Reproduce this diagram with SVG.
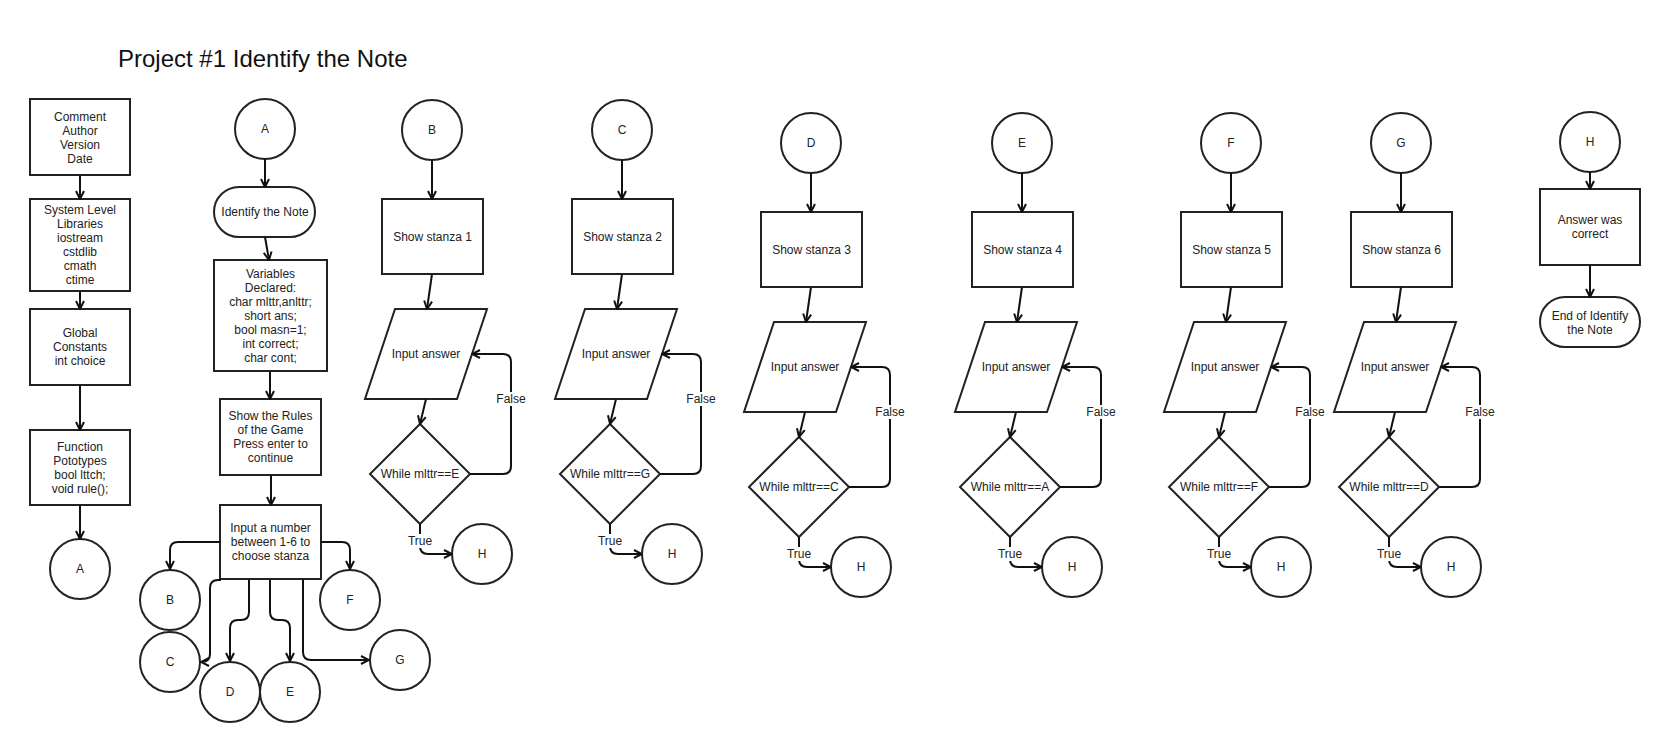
<svg xmlns="http://www.w3.org/2000/svg" width="1660" height="742" viewBox="0 0 1660 742">
  <style>
    .box { fill: #fff; stroke: #222; stroke-width: 2; }
    .t { font-family: "Liberation Sans", Arial, sans-serif; font-size: 12px; fill: #222; text-anchor: middle; }
    .title { font-family: "Liberation Sans", Arial, sans-serif; font-size: 24px; fill: #111; }
    .conn { fill: none; stroke: #111; stroke-width: 2; marker-end: url(#arrow); }
    .line { fill: none; stroke: #111; stroke-width: 2; }
    .bg { fill: #fff; }
  </style>
  <defs>
    <marker id="arrow" viewBox="0 0 10 10" refX="9" refY="5" markerWidth="10" markerHeight="10" markerUnits="userSpaceOnUse" orient="auto">
      <path d="M1,1 L9,5 L1,9" fill="none" stroke="#111" stroke-width="2"/>
    </marker>
  </defs>

  <rect width="1660" height="742" fill="#fff"/>

  <text class="title" x="118" y="67">Project #1 Identify the Note</text>

  <!-- Column 1: program header -->
  <g id="node-comment">
    <rect class="box" x="30" y="99" width="100" height="76"/>
    <text class="t" x="80" y="121">Comment</text>
    <text class="t" x="80" y="135">Author</text>
    <text class="t" x="80" y="149">Version</text>
    <text class="t" x="80" y="163">Date</text>
  </g>
  <g id="node-libraries">
    <rect class="box" x="30" y="199" width="100" height="92"/>
    <text class="t" x="80" y="214">System Level</text>
    <text class="t" x="80" y="228">Libraries</text>
    <text class="t" x="80" y="242">iostream</text>
    <text class="t" x="80" y="256">cstdlib</text>
    <text class="t" x="80" y="270">cmath</text>
    <text class="t" x="80" y="284">ctime</text>
  </g>
  <g id="node-globals">
    <rect class="box" x="30" y="309" width="100" height="76"/>
    <text class="t" x="80" y="337">Global</text>
    <text class="t" x="80" y="351">Constants</text>
    <text class="t" x="80" y="365">int choice</text>
  </g>
  <g id="node-prototypes">
    <rect class="box" x="30" y="430" width="100" height="75"/>
    <text class="t" x="80" y="451">Function</text>
    <text class="t" x="80" y="465">Pototypes</text>
    <text class="t" x="80" y="479">bool lttch;</text>
    <text class="t" x="80" y="493">void rule();</text>
  </g>
  <g id="node-a-out">
    <circle class="box" cx="80" cy="569" r="30"/>
    <text class="t" x="80" y="573">A</text>
  </g>

  <!-- Column 2: main flow -->
  <g id="node-a-in">
    <circle class="box" cx="265" cy="129" r="30"/>
    <text class="t" x="265" y="133">A</text>
  </g>
  <g id="node-start">
    <rect class="box" x="214" y="187" width="101" height="50" rx="25" ry="25"/>
    <text class="t" x="265" y="216">Identify the Note</text>
  </g>
  <g id="node-variables">
    <rect class="box" x="214" y="260" width="113" height="111"/>
    <text class="t" x="270.5" y="278">Variables</text>
    <text class="t" x="270.5" y="292">Declared:</text>
    <text class="t" x="270.5" y="306">char mlttr,anlttr;</text>
    <text class="t" x="270.5" y="320">short ans;</text>
    <text class="t" x="270.5" y="334">bool masn=1;</text>
    <text class="t" x="270.5" y="348">int correct;</text>
    <text class="t" x="270.5" y="362">char cont;</text>
  </g>
  <g id="node-rules">
    <rect class="box" x="220" y="399" width="101" height="76"/>
    <text class="t" x="270.5" y="420">Show the Rules</text>
    <text class="t" x="270.5" y="434">of the Game</text>
    <text class="t" x="270.5" y="448">Press enter to</text>
    <text class="t" x="270.5" y="462">continue</text>
  </g>
  <g id="node-choose">
    <rect class="box" x="220" y="505" width="101" height="74"/>
    <text class="t" x="270.5" y="532">Input a number</text>
    <text class="t" x="270.5" y="546">between 1-6 to</text>
    <text class="t" x="270.5" y="560">choose stanza</text>
  </g>
  <g id="node-b-out"><circle class="box" cx="170" cy="600" r="30"/><text class="t" x="170" y="604">B</text></g>
  <g id="node-c-out"><circle class="box" cx="170" cy="662" r="30"/><text class="t" x="170" y="666">C</text></g>
  <g id="node-d-out"><circle class="box" cx="230" cy="692" r="30"/><text class="t" x="230" y="696">D</text></g>
  <g id="node-e-out"><circle class="box" cx="290" cy="692" r="30"/><text class="t" x="290" y="696">E</text></g>
  <g id="node-f-out"><circle class="box" cx="350" cy="600" r="30"/><text class="t" x="350" y="604">F</text></g>
  <g id="node-g-out"><circle class="box" cx="400" cy="660" r="30"/><text class="t" x="400" y="664">G</text></g>

  <!-- Stanza 1 (B) -->
  <g id="node-b-in"><circle class="box" cx="432" cy="130" r="30"/><text class="t" x="432" y="134">B</text></g>
  <g id="node-stanza1"><rect class="box" x="382" y="199" width="101" height="75"/><text class="t" x="432.5" y="241">Show stanza 1</text></g>
  <g id="node-input1"><polygon class="box" points="395,309 487,309 457,399 365,399"/><text class="t" x="426" y="358">Input answer</text></g>
  <g id="node-check1"><polygon class="box" points="420,424 470,474 420,524 370,474"/><text class="t" x="420" y="478">While mlttr==E</text></g>
  <g id="node-h1"><circle class="box" cx="482" cy="554" r="30"/><text class="t" x="482" y="558">H</text></g>

  <!-- Stanza 2 (C) -->
  <g id="node-c-in"><circle class="box" cx="622" cy="130" r="30"/><text class="t" x="622" y="134">C</text></g>
  <g id="node-stanza2"><rect class="box" x="572" y="199" width="101" height="75"/><text class="t" x="622.5" y="241">Show stanza 2</text></g>
  <g id="node-input2"><polygon class="box" points="585,309 677,309 647,399 555,399"/><text class="t" x="616" y="358">Input answer</text></g>
  <g id="node-check2"><polygon class="box" points="610,424 660,474 610,524 560,474"/><text class="t" x="610" y="478">While mlttr==G</text></g>
  <g id="node-h2"><circle class="box" cx="672" cy="554" r="30"/><text class="t" x="672" y="558">H</text></g>

  <!-- Stanza 3 (D) -->
  <g id="node-d-in"><circle class="box" cx="811" cy="143" r="30"/><text class="t" x="811" y="147">D</text></g>
  <g id="node-stanza3"><rect class="box" x="761" y="212" width="101" height="75"/><text class="t" x="811.5" y="254">Show stanza 3</text></g>
  <g id="node-input3"><polygon class="box" points="774,322 866,322 836,412 744,412"/><text class="t" x="805" y="371">Input answer</text></g>
  <g id="node-check3"><polygon class="box" points="799,437 849,487 799,537 749,487"/><text class="t" x="799" y="491">While mlttr==C</text></g>
  <g id="node-h3"><circle class="box" cx="861" cy="567" r="30"/><text class="t" x="861" y="571">H</text></g>

  <!-- Stanza 4 (E) -->
  <g id="node-e-in"><circle class="box" cx="1022" cy="143" r="30"/><text class="t" x="1022" y="147">E</text></g>
  <g id="node-stanza4"><rect class="box" x="972" y="212" width="101" height="75"/><text class="t" x="1022.5" y="254">Show stanza 4</text></g>
  <g id="node-input4"><polygon class="box" points="985,322 1077,322 1047,412 955,412"/><text class="t" x="1016" y="371">Input answer</text></g>
  <g id="node-check4"><polygon class="box" points="1010,437 1060,487 1010,537 960,487"/><text class="t" x="1010" y="491">While mlttr==A</text></g>
  <g id="node-h4"><circle class="box" cx="1072" cy="567" r="30"/><text class="t" x="1072" y="571">H</text></g>

  <!-- Stanza 5 (F) -->
  <g id="node-f-in"><circle class="box" cx="1231" cy="143" r="30"/><text class="t" x="1231" y="147">F</text></g>
  <g id="node-stanza5"><rect class="box" x="1181" y="212" width="101" height="75"/><text class="t" x="1231.5" y="254">Show stanza 5</text></g>
  <g id="node-input5"><polygon class="box" points="1194,322 1286,322 1256,412 1164,412"/><text class="t" x="1225" y="371">Input answer</text></g>
  <g id="node-check5"><polygon class="box" points="1219,437 1269,487 1219,537 1169,487"/><text class="t" x="1219" y="491">While mlttr==F</text></g>
  <g id="node-h5"><circle class="box" cx="1281" cy="567" r="30"/><text class="t" x="1281" y="571">H</text></g>

  <!-- Stanza 6 (G) -->
  <g id="node-g-in"><circle class="box" cx="1401" cy="143" r="30"/><text class="t" x="1401" y="147">G</text></g>
  <g id="node-stanza6"><rect class="box" x="1351" y="212" width="101" height="75"/><text class="t" x="1401.5" y="254">Show stanza 6</text></g>
  <g id="node-input6"><polygon class="box" points="1364,322 1456,322 1426,412 1334,412"/><text class="t" x="1395" y="371">Input answer</text></g>
  <g id="node-check6"><polygon class="box" points="1389,437 1439,487 1389,537 1339,487"/><text class="t" x="1389" y="491">While mlttr==D</text></g>
  <g id="node-h6"><circle class="box" cx="1451" cy="567" r="30"/><text class="t" x="1451" y="571">H</text></g>

  <!-- Correct answer (H) -->
  <g id="node-h-in"><circle class="box" cx="1590" cy="142" r="30"/><text class="t" x="1590" y="146">H</text></g>
  <g id="node-correct">
    <rect class="box" x="1540" y="189" width="100" height="76"/>
    <text class="t" x="1590" y="224">Answer was</text>
    <text class="t" x="1590" y="238">correct</text>
  </g>
  <g id="node-end">
    <rect class="box" x="1540" y="297" width="100" height="50" rx="25" ry="25"/>
    <text class="t" x="1590" y="320">End of Identify</text>
    <text class="t" x="1590" y="334">the Note</text>
  </g>

  <g id="connectors">
    <!-- header chain -->
    <path class="conn" d="M80,175 L80,199"/>
    <path class="conn" d="M80,291 L80,309"/>
    <path class="conn" d="M80,385 L80,430"/>
    <path class="conn" d="M80,505 L80,539"/>

    <!-- main chain -->
    <path class="conn" d="M265,159 L265,187"/>
    <path class="conn" d="M265,237 L269,260"/>
    <path class="conn" d="M270,371 L270,399"/>
    <path class="conn" d="M271,475 L271,505"/>

    <!-- stanza choice fan-out -->
    <path class="conn" d="M220,542 L178,542 Q170,542 170,550 L170,569"/>
    <path class="conn" d="M321,542 L342,542 Q350,542 350,550 L350,569"/>
    <path class="conn" d="M221,580 L218,580 Q210,580 210,588 L210,654 Q210,662 201,662"/>
    <path class="conn" d="M249,579 L249,612 Q249,620 241,620 L238,620 Q230,620 230,628 L230,661"/>
    <path class="conn" d="M270,579 L270,612 Q270,620 278,620 L282,620 Q290,620 290,628 L290,661"/>
    <path class="conn" d="M303,579 L303,652 Q303,660 311,660 L369,660"/>

    <!-- stanza 1 -->
    <path class="conn" d="M432,160 L432,199"/>
    <path class="conn" d="M432,274 L427,309"/>
    <path class="conn" d="M426,399 L420,424"/>
    <path class="conn" d="M470,474 L503,474 Q511,474 511,466 L511,362 Q511,354 503,354 L472,354"/>
    <path class="conn" d="M420,524 L420,546 Q420,554 428,554 L452,554"/>

    <!-- stanza 2 -->
    <path class="conn" d="M622,160 L622,199"/>
    <path class="conn" d="M622,274 L617,309"/>
    <path class="conn" d="M616,399 L610,424"/>
    <path class="conn" d="M660,474 L693,474 Q701,474 701,466 L701,362 Q701,354 693,354 L662,354"/>
    <path class="conn" d="M610,524 L610,546 Q610,554 618,554 L642,554"/>

    <!-- stanza 3 -->
    <path class="conn" d="M811,173 L811,212"/>
    <path class="conn" d="M811,287 L806,322"/>
    <path class="conn" d="M805,412 L799,437"/>
    <path class="conn" d="M849,487 L882,487 Q890,487 890,479 L890,375 Q890,367 882,367 L851,367"/>
    <path class="conn" d="M799,537 L799,559 Q799,567 807,567 L831,567"/>

    <!-- stanza 4 -->
    <path class="conn" d="M1022,173 L1022,212"/>
    <path class="conn" d="M1022,287 L1017,322"/>
    <path class="conn" d="M1016,412 L1010,437"/>
    <path class="conn" d="M1060,487 L1093,487 Q1101,487 1101,479 L1101,375 Q1101,367 1093,367 L1062,367"/>
    <path class="conn" d="M1010,537 L1010,559 Q1010,567 1018,567 L1042,567"/>

    <!-- stanza 5 -->
    <path class="conn" d="M1231,173 L1231,212"/>
    <path class="conn" d="M1231,287 L1226,322"/>
    <path class="conn" d="M1225,412 L1219,437"/>
    <path class="conn" d="M1269,487 L1302,487 Q1310,487 1310,479 L1310,375 Q1310,367 1302,367 L1271,367"/>
    <path class="conn" d="M1219,537 L1219,559 Q1219,567 1227,567 L1251,567"/>

    <!-- stanza 6 -->
    <path class="conn" d="M1401,173 L1401,212"/>
    <path class="conn" d="M1401,287 L1396,322"/>
    <path class="conn" d="M1395,412 L1389,437"/>
    <path class="conn" d="M1439,487 L1472,487 Q1480,487 1480,479 L1480,375 Q1480,367 1472,367 L1441,367"/>
    <path class="conn" d="M1389,537 L1389,559 Q1389,567 1397,567 L1421,567"/>

    <!-- correct answer chain -->
    <path class="conn" d="M1590,172 L1590,189"/>
    <path class="conn" d="M1590,265 L1590,297"/>

    <!-- edge labels -->
    <rect class="bg" x="496" y="392" width="30" height="14"/><text class="t" x="511" y="403">False</text>
    <rect class="bg" x="406" y="534" width="28" height="14"/><text class="t" x="420" y="545">True</text>
    <rect class="bg" x="686" y="392" width="30" height="14"/><text class="t" x="701" y="403">False</text>
    <rect class="bg" x="596" y="534" width="28" height="14"/><text class="t" x="610" y="545">True</text>
    <rect class="bg" x="875" y="405" width="30" height="14"/><text class="t" x="890" y="416">False</text>
    <rect class="bg" x="785" y="547" width="28" height="14"/><text class="t" x="799" y="558">True</text>
    <rect class="bg" x="1086" y="405" width="30" height="14"/><text class="t" x="1101" y="416">False</text>
    <rect class="bg" x="996" y="547" width="28" height="14"/><text class="t" x="1010" y="558">True</text>
    <rect class="bg" x="1295" y="405" width="30" height="14"/><text class="t" x="1310" y="416">False</text>
    <rect class="bg" x="1205" y="547" width="28" height="14"/><text class="t" x="1219" y="558">True</text>
    <rect class="bg" x="1465" y="405" width="30" height="14"/><text class="t" x="1480" y="416">False</text>
    <rect class="bg" x="1375" y="547" width="28" height="14"/><text class="t" x="1389" y="558">True</text>
  </g>
</svg>
